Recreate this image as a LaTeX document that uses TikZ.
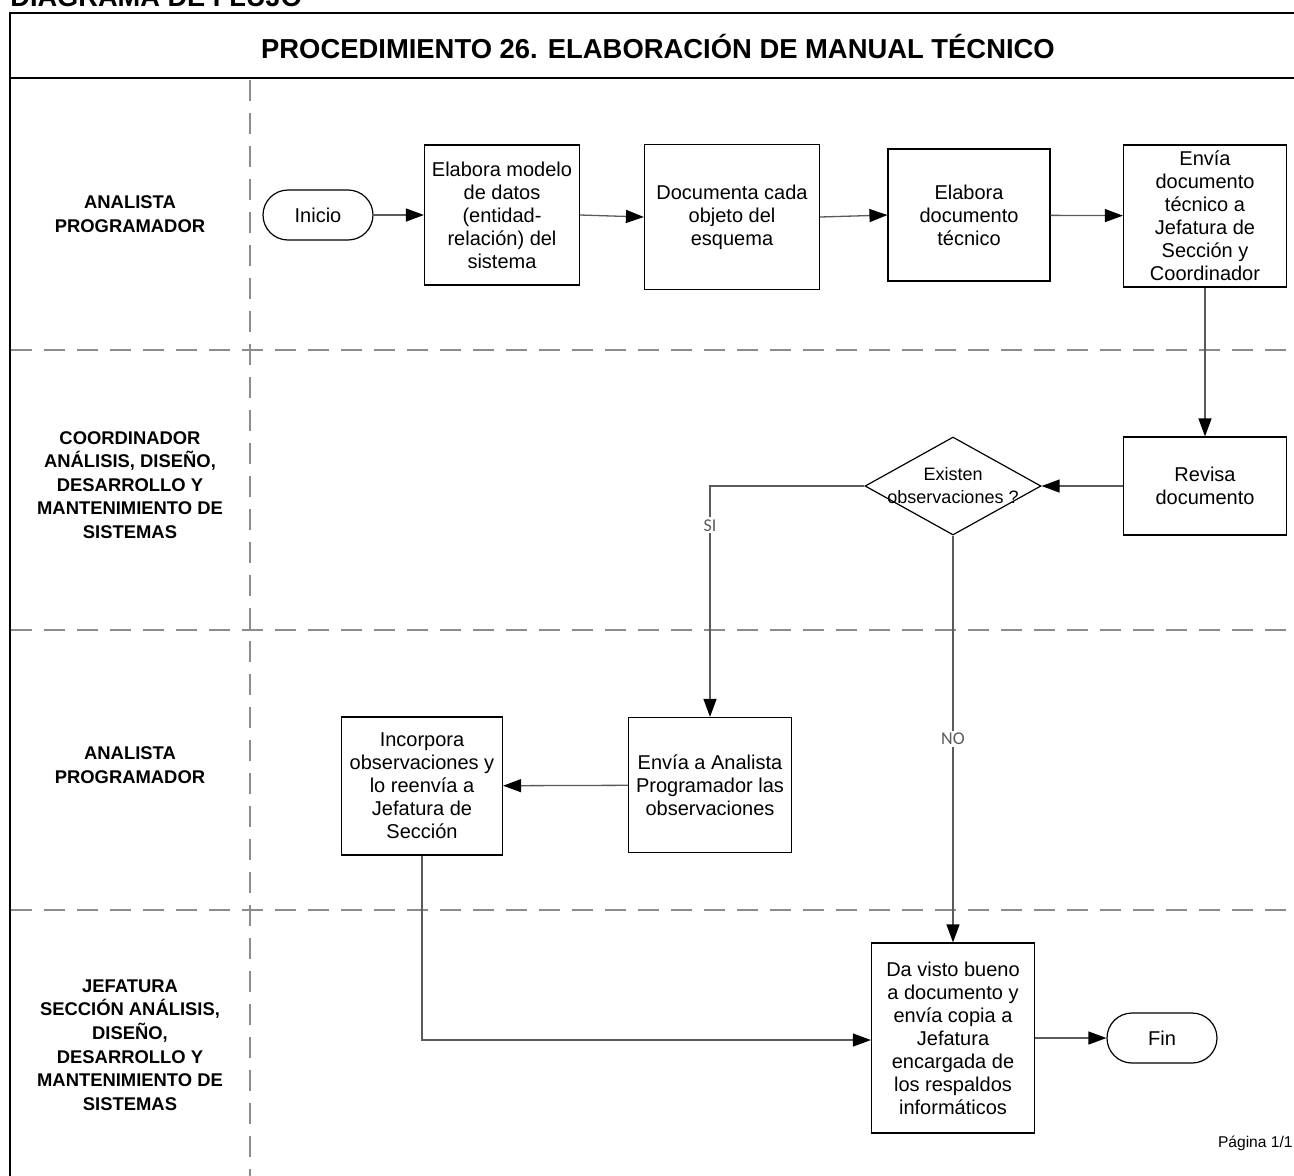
\documentclass[tikz,border=0pt]{standalone}
\usepackage{fontspec}
\setmainfont{Liberation Sans}
\newfontfamily\carl{Carlito}
\usetikzlibrary{arrows.meta,shapes.geometric}
\definecolor{lanegray}{HTML}{8C8C8C}
\definecolor{conngray}{HTML}{5A5A5A}
\begin{document}
\begin{tikzpicture}[x=0.5pt,y=-0.5pt,
  frame/.style={line width=1pt,black},
  laneline/.style={line width=1.25pt,lanegray,dash pattern=on 10.5pt off 6pt},
  proc/.style={draw=black,line width=0.6pt,align=center,inner sep=1pt,
    font=\fontsize{10}{11.5}\selectfont},
  term/.style={draw=black,line width=0.6pt,rounded corners=12.5pt,
    minimum width=55pt,minimum height=25pt,font=\fontsize{10}{11.5}\selectfont},
  dec/.style={draw=black,line width=0.6pt,diamond,inner sep=0pt,minimum width=88pt,minimum height=49pt},
  lanelabel/.style={align=center,font=\bfseries\fontsize{9.2}{11.8}\selectfont},
  conn/.style={conngray,line width=0.65pt,-{Triangle[length=9pt,width=6.5pt,color=black]}},
  cond/.style={fill=white,inner sep=1pt,font=\carl\fontsize{9}{10}\selectfont}
]
\useasboundingbox (0,0) rectangle (1294,1175);
\clip (0,0) rectangle (1294,1175);

% header
\node[anchor=base west,inner sep=0pt,font=\bfseries\fontsize{13.6}{15}\selectfont] (hdr) at (10,6) {DIAGRAMA DE FLUJO};
\draw[frame] (10,1200) -- (10,13) -- (1310,13);
\draw[frame] (10,78) -- (1310,78);
\node[font=\bfseries\fontsize{13.7}{15}\selectfont] (title) at (658,46) {PROCEDIMIENTO 26. ELABORACIÓN DE MANUAL TÉCNICO};

% lanes
\draw[laneline] (250,80) -- (250,1180);
\draw[laneline] (11,350) -- (1300,350);
\draw[laneline] (11,630) -- (1300,630);
\draw[laneline] (11,910) -- (1300,910);

\node[lanelabel] (l1) at (130,214) {ANALISTA\\PROGRAMADOR};
\node[lanelabel] (l2) at (130,485) {COORDINADOR\\ANÁLISIS, DISEÑO,\\DESARROLLO Y\\MANTENIMIENTO DE\\SISTEMAS};
\node[lanelabel] (l3) at (130,765) {ANALISTA\\PROGRAMADOR};
\node[lanelabel] (l4) at (130,1045) {JEFATURA\\SECCIÓN ANÁLISIS,\\DISEÑO,\\DESARROLLO Y\\MANTENIMIENTO DE\\SISTEMAS};

% nodes
\node[term] (ini) at (318,215) {Inicio};
\node[proc,minimum width=77.5pt,minimum height=70pt] (b1) at (502,215) {Elabora modelo\\de datos\\(entidad-\\relación) del\\sistema};
\node[proc,minimum width=87.5pt,minimum height=72.5pt] (b2) at (732,217) {Documenta cada\\objeto del\\esquema};
\node[proc,minimum width=81pt,minimum height=66pt] (b3) at (969,215) {Elabora\\documento\\técnico};
\node[proc,minimum width=81.5pt,minimum height=71pt] (b4) at (1205,216) {Envía\\documento\\técnico a\\Jefatura de\\Sección y\\Coordinador};
\node[proc,minimum width=81.5pt,minimum height=49pt] (rev) at (1205,486) {Revisa\\documento};
\node[dec] (dia) at (953,486) {};
\node[align=center,inner sep=0pt,font=\fontsize{9}{11.5}\selectfont] (diat) at (953,486) {Existen\\observaciones ?};
\node[proc,minimum width=81.5pt,minimum height=67.5pt] (env) at (710,785) {Envía a Analista\\Programador las\\observaciones};
\node[proc,minimum width=80.5pt,minimum height=69pt] (inc) at (422,786) {Incorpora\\observaciones y\\lo reenvía a\\Jefatura de\\Sección};
\node[proc,minimum width=81.5pt,minimum height=95pt] (vb) at (953,1038) {Da visto bueno\\a documento y\\envía copia a\\Jefatura\\encargada de\\los respaldos\\informáticos};
\node[term] (fin) at (1162,1038) {Fin};

\node[anchor=base east,inner sep=0pt,font=\fontsize{7.8}{9}\selectfont] (pag) at (1293,1147) {Página 1/1};

% connectors
\draw[conn] (ini) -- (b1);
\draw[conn] (b1.east) -- (b2.west);
\draw[conn] (b2.east) -- (b3.west);
\draw[conn] (b3) -- (b4);
\draw[conn] (b4) -- (rev);
\draw[conn] (rev) -- (dia);
\coordinate (siturn) at (710,486);
\draw[conn] (dia.west) -- (siturn) -- (env.north) node[cond,pos=0.17] {SI};
\draw[conn] (dia.south) -- (vb.north) node[cond,midway] {NO};
\draw[conn] (env) -- (inc);
\coordinate (incturn) at (422,1040);
\draw[conn] (inc.south) -- (incturn) -- (vb.west |- incturn);
\draw[conn] (vb) -- (fin);
\end{tikzpicture}
\end{document}
